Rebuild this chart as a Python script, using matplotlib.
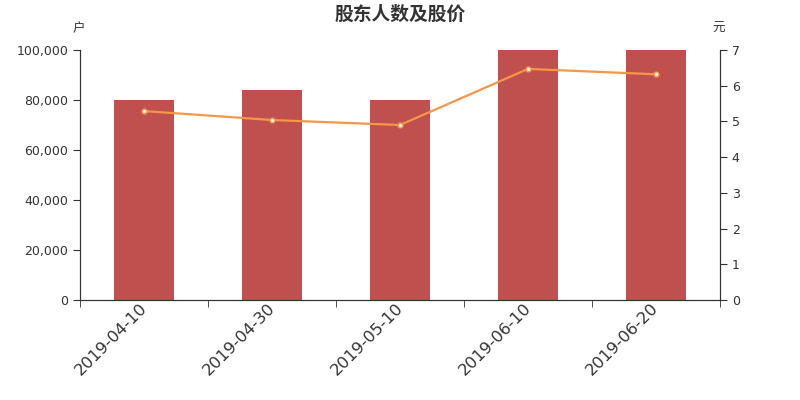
import numpy as np
import matplotlib
matplotlib.use('Agg')
import matplotlib.pyplot as plt
from matplotlib.ticker import FuncFormatter
from matplotlib.transforms import ScaledTranslation

plt.rcParams['font.family'] = ['DejaVu Sans', 'Noto Sans CJK SC']

# 数据
fechas = ['2019-04-10', '2019-04-30', '2019-05-10', '2019-06-10', '2019-06-20']
hogares = [80000, 84000, 80000, 100000, 100000]
precio = [5.29, 5.04, 4.90, 6.47, 6.32]

color_barra = '#c0504d'
color_linea = '#f79646'
gris = '#333333'

fig = plt.figure(figsize=(8, 4), dpi=100)
ax = fig.add_axes([0.1, 0.25, 0.8, 0.625])
x = np.arange(len(fechas))

ax.bar(x, hogares, width=0.47, color=color_barra, zorder=2)
ax.set_xlim(-0.5, len(fechas) - 0.5)
ax.set_ylim(0, 100000)
ax.set_yticks(np.arange(0, 100001, 20000))
ax.yaxis.set_major_formatter(FuncFormatter(lambda v, p: '{:,.0f}'.format(v)))

# etiquetas en el centro, marcas en los bordes
ax.set_xticks(x)
ax.set_xticklabels(fechas, rotation=45, ha='right', rotation_mode='anchor',
                   fontsize=11.8, color=gris)
ax.tick_params(axis='x', which='major', length=0, pad=0)
desplaza = ScaledTranslation(-5 / 100, 0, fig.dpi_scale_trans)
for lbl in ax.get_xticklabels():
    lbl.set_transform(lbl.get_transform() + desplaza)
ax.set_xticks(np.arange(-0.5, len(fechas), 1), minor=True)
ax.tick_params(axis='x', which='minor', length=5, color=gris)
ax.tick_params(axis='y', labelsize=9, colors=gris, length=5)

ax.spines['top'].set_visible(False)
for s in ['left', 'right', 'bottom']:
    ax.spines[s].set_color(gris)

ax2 = ax.twinx()
ax2.plot(x, precio, color=color_linea, linewidth=1.6, marker='o', markersize=3.5,
         markerfacecolor='white', markeredgecolor=color_linea, markeredgewidth=1, zorder=3)
ax2.set_ylim(0, 7)
ax2.set_yticks(range(0, 8))
ax2.tick_params(axis='y', labelsize=9, colors=gris, length=5)
ax2.spines['top'].set_visible(False)
for s in ['left', 'right', 'bottom']:
    ax2.spines[s].set_color(gris)

fig.text(0.5, 0.965, '股东人数及股价', ha='center', va='center', fontsize=13.5,
         fontweight='bold', color=gris, family=['Noto Sans CJK SC', 'DejaVu Sans'])
fig.text(0.098, 0.928, '户', ha='center', va='center', fontsize=9, color=gris,
         family=['Noto Sans CJK SC', 'DejaVu Sans'])
fig.text(0.898, 0.928, '元', ha='center', va='center', fontsize=9, color=gris,
         family=['Noto Sans CJK SC', 'DejaVu Sans'])

plt.savefig('out.png', dpi=100)
